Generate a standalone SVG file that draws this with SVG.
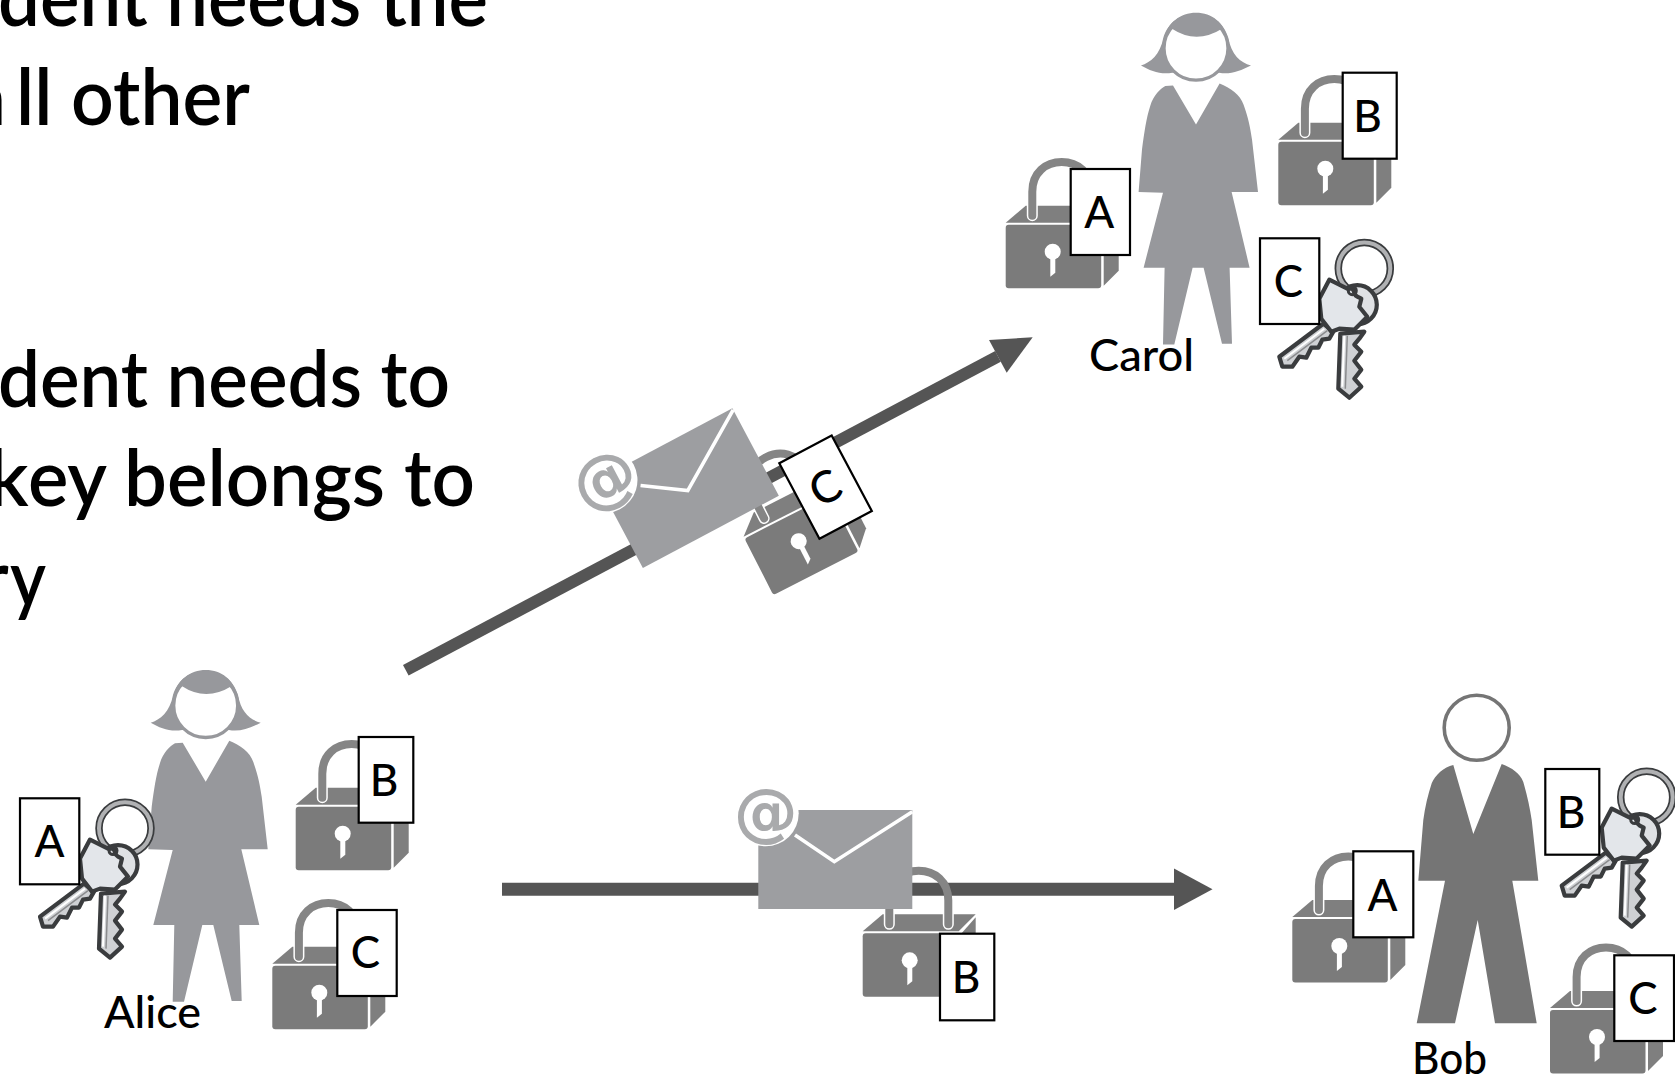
<svg xmlns="http://www.w3.org/2000/svg" xmlns:xlink="http://www.w3.org/1999/xlink" width="1675" height="1077" viewBox="0 0 1675 1077">
<style>
text{font-family:Lato,"Liberation Sans",sans-serif;fill:#000}
.h{font-size:78px;font-weight:600}
.n{font-size:44px;font-weight:500}
.l{font-size:44px;font-weight:500;text-anchor:middle}
.lab{fill:#fff;stroke:#000;stroke-width:2.2}
.at{font-family:"DejaVu Sans",sans-serif;font-size:64px;font-weight:700;fill:#a9aaac;text-anchor:middle}
.k{stroke:#3a3c3e;stroke-width:4.2;stroke-linejoin:round}
</style>
<defs>
<g id="lock">
<polygon points="0,-2 20,-19 113,-19 96,-2" fill="#7f7f7f"/>
<polygon points="98,1 113,-16 113,46 98,61" fill="#7f7f7f"/>
<rect x="0" y="0" width="95.5" height="63.5" rx="3" fill="#7b7b7b"/>
<path d="M26.6,-9V-22M85.6,-9V-22" stroke="#fff" stroke-width="11" stroke-linecap="round" fill="none"/>
<path d="M26.6,-9V-33C26.6,-52 40,-62.6 56,-62.6C72,-62.6 85.6,-52 85.6,-33V-9" stroke="#858585" stroke-width="8" stroke-linecap="round" fill="none"/>
<circle cx="47" cy="27" r="8" fill="#fff"/>
<polygon points="44.6,30 49.6,30 49.6,48 44.6,52" fill="#fff"/>
</g>
<g id="woman">
<path fill="#97989c" d="M150.7,722.7C160,720 170,712 173,695C178,680 190,670 205.7,670C222,670 233,680 238,695C241,712 250,720 260.7,722.7C250,728 240,732 229,730L182,730C170,732 160,728 150.7,722.7Z"/>
<circle cx="205.7" cy="705.5" r="32" fill="#fff" stroke="#97989c" stroke-width="3.3"/>
<path fill="#97989c" d="M174,697C176,680 190,671 205.7,671C221,671 235,680 237,697L231.7,686Q206,702 181.7,686Z"/>
<path fill="#97989c" d="M175,743.3L182.7,742.7L205.7,781.7L229.3,740.7C240,745 250,752 253.3,762C258,775 260,785 261.7,796.7L267.7,849.3L241.3,849.3L259.3,925L239.3,925L241.7,1001L231.7,1001L213.3,925L202.3,925L184,1001.7L172.7,1001.7L174.3,925L153.3,925L172.7,850L148.3,849.3L151.7,806.7C154,790 156,775 160,763C163,753 170,746 175,743.3Z"/>
</g>
<g id="keys">
<circle cx="105" cy="36.7" r="26" fill="none" stroke="#3a3c3e" stroke-width="7.5"/>
<circle cx="105" cy="36.7" r="26" fill="none" stroke="#b0b1b3" stroke-width="4"/>
<circle cx="98" cy="73" r="19.5" class="k" fill="#dfe1e4"/>
<path class="k" fill="#cfd1d4" d="M81,102L79,157L90,166L102,155L95,147L102,138L95,129L102,120L95,113L100,107L105,100Z"/>
<path d="M85,104L83,155" stroke="#fff" stroke-width="2" fill="none"/>
<path d="M88,104L86,157" stroke="#8a8b8d" stroke-width="1.5" fill="none"/>
<path class="k" fill="#cfd1d4" d="M64,92L20,125L23,135L33,135L40,125L47,126L52,116L59,116L63,108L70,107L74,100Z"/>
<path d="M65,97L25,127" stroke="#fff" stroke-width="2" fill="none"/>
<path d="M68,99L28,129" stroke="#8a8b8d" stroke-width="1.5" fill="none"/>
<path class="k" fill="#e3e6ea" d="M70,48L88,57L93,57C96,60 94,63 98,65L102,67L100,75L108,85L95,98L80,97L72,100L62,87L60,67Z"/>
<circle cx="93" cy="59" r="4" fill="none" stroke="#3a3c3e" stroke-width="3"/>
</g>
<g id="mail">
<rect width="154" height="99" fill="#9d9ea1"/>
<path d="M36.7,25L76,51.7L154,1.7" fill="none" stroke="#fff" stroke-width="3.6"/>
<circle cx="7.4" cy="3.3" r="33" fill="#fff"/>
<text class="at" x="7.4" y="24">@</text>
</g>
</defs>
<rect width="1675" height="1077" fill="#fff"/>
<g id="heading">
<text class="h" x="-2" y="26" textLength="490" lengthAdjust="spacingAndGlyphs">dent needs the</text>
<text class="h" x="-33" y="125">a<tspan x="16" textLength="234" lengthAdjust="spacingAndGlyphs">ll other</tspan></text>
<text class="h" x="-2" y="407" textLength="452" lengthAdjust="spacingAndGlyphs">dent needs to</text>
<text class="h" x="-12" y="506">k<tspan x="28" textLength="447" lengthAdjust="spacingAndGlyphs">ey belongs to</tspan></text>
<text class="h" x="-20" y="606">r<tspan x="10" textLength="36" lengthAdjust="spacingAndGlyphs">y</tspan></text>
</g>
<g id="connectors">
<line x1="405.8" y1="670.3" x2="998" y2="356.4" stroke="#555" stroke-width="12"/>
<polygon points="1032.7,337.3 989,340 1006.7,372.7" fill="#555"/>
<line x1="502" y1="889.3" x2="1176" y2="889.3" stroke="#555" stroke-width="13"/>
<polygon points="1212.5,889.3 1174,868.6 1174,910" fill="#555"/>
</g>
<g id="alice">
<use href="#woman"/>
<use href="#keys" x="20" y="791.6"/>
<rect class="lab" x="20" y="798.3" width="59.3" height="86"/><text class="l" x="49.6" y="857.3">A</text>
<use href="#lock" x="295.7" y="806.7"/>
<rect class="lab" x="358.7" y="737" width="54.6" height="85.7"/><text class="l" x="384" y="795.7">B</text>
<use href="#lock" x="272.3" y="965.7"/>
<rect class="lab" x="337.3" y="910" width="59.4" height="86"/><text class="l" x="365.5" y="968.3">C</text>
<text class="n" x="104" y="1028.3" textLength="97" lengthAdjust="spacingAndGlyphs">Alice</text>
</g>
<g id="carol">
<use href="#woman" x="990.3" y="-657.3"/>
<use href="#lock" x="1005.7" y="224.7"/>
<rect class="lab" x="1070.7" y="169" width="59.3" height="86"/><text class="l" x="1099.3" y="228">A</text>
<use href="#lock" x="1278.3" y="141.7"/>
<rect class="lab" x="1342.7" y="72.7" width="54" height="86"/><text class="l" x="1367.5" y="131.5">B</text>
<use href="#keys" x="1259.3" y="231.7"/>
<rect class="lab" x="1260" y="238.3" width="59.3" height="85.7"/><text class="l" x="1288.5" y="297">C</text>
<text class="n" x="1089" y="371" textLength="105" lengthAdjust="spacingAndGlyphs">Carol</text>
</g>
<g id="bob">
<circle cx="1476.7" cy="727.7" r="32.5" fill="#fff" stroke="#757575" stroke-width="3.6"/>
<path fill="#757575" d="M1453.3,765L1473.3,834L1501.7,764C1512,768 1520,773 1523.3,782C1527,795 1530,808 1531.7,820L1538.3,880.7L1512.3,880.7L1536.7,1023.3L1495,1023.3L1477.7,920L1455,1023.3L1416.7,1023.3L1445,880.7L1418.3,880.7L1423.3,820C1425,807 1428,795 1431.7,783.3C1435,775 1444,767 1453.3,765Z"/>
<use href="#lock" x="1292.3" y="919"/>
<rect class="lab" x="1353.3" y="851.3" width="60" height="86"/><text class="l" x="1382.5" y="910.5">A</text>
<use href="#keys" x="1541.7" y="760.6"/>
<rect class="lab" x="1545.3" y="769" width="54" height="85.7"/><text class="l" x="1571" y="827.7">B</text>
<use href="#lock" x="1550" y="1010"/>
<rect class="lab" x="1614.3" y="955.3" width="59.7" height="85.7"/><text class="l" x="1643" y="1014">C</text>
<text class="n" x="1412" y="1074.3" textLength="75" lengthAdjust="spacingAndGlyphs">Bob</text>
</g>
<g id="message-bob">
<use href="#lock" x="862.7" y="933.3"/>
<use href="#mail" x="758.3" y="810"/>
<rect class="lab" x="940" y="933.7" width="54.3" height="86.6"/><text class="l" x="966" y="992.5">B</text>
</g>
<g id="message-carol">
<use href="#lock" transform="translate(744.5,538.5) rotate(-27)"/>
<use href="#mail" transform="translate(596.4,480.6) rotate(-28)"/>
<g transform="translate(779.3,463.3) rotate(-28)">
<rect class="lab" width="59.3" height="85.5"/><text class="l" x="29" y="58.5">C</text>
</g>
</g>
</svg>
